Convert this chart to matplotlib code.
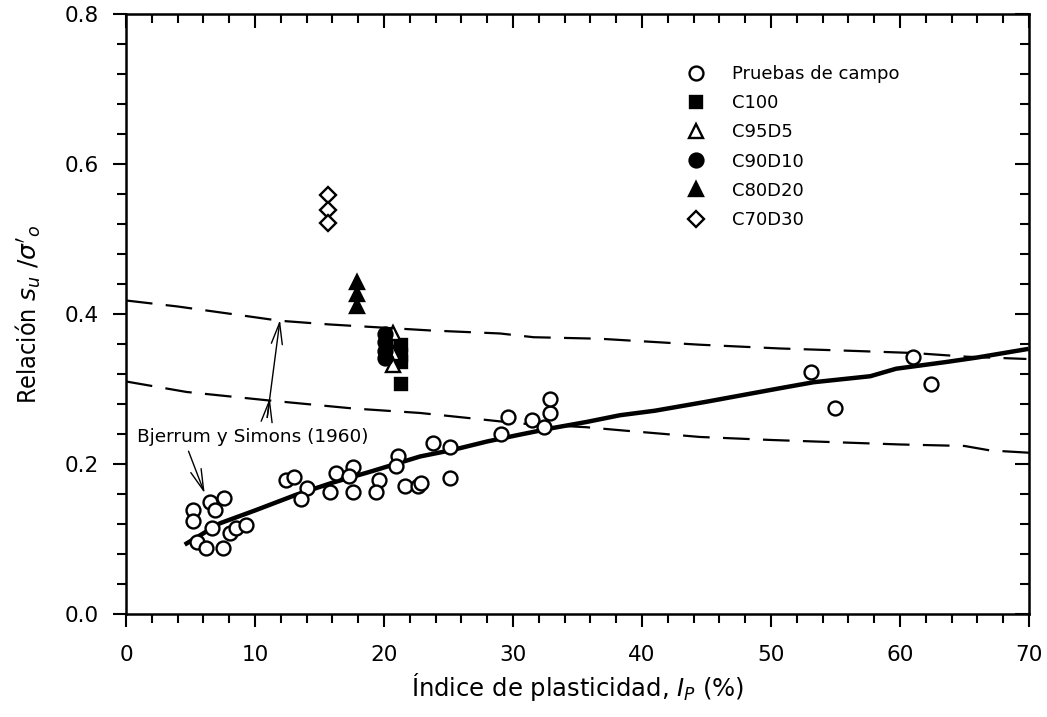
import matplotlib
matplotlib.use('Agg')
import matplotlib.pyplot as plt
from matplotlib import font_manager

plt.rcParams['font.family'] = ['DejaVu Sans']
plt.rcParams['mathtext.fontset'] = 'dejavusans'

# field data (open circles)
campo_x = [5.2, 5.2, 6.5, 6.9, 7.6, 6.7, 5.5, 6.2, 7.5, 8.1, 8.5, 9.3,
           12.4, 13.0, 14.0, 13.6, 15.8, 16.3, 17.6, 17.3, 17.6, 19.6, 19.4,
           21.1, 20.9, 21.6, 22.6, 22.9, 23.8, 25.1, 25.1, 29.1, 29.6,
           31.5, 32.4, 32.9, 32.9, 53.1, 55.0, 61.0, 62.4]
campo_y = [0.139, 0.124, 0.149, 0.138, 0.154, 0.114, 0.096, 0.088, 0.088, 0.108, 0.115, 0.118,
           0.178, 0.182, 0.168, 0.153, 0.162, 0.188, 0.196, 0.184, 0.162, 0.179, 0.162,
           0.211, 0.197, 0.171, 0.170, 0.174, 0.228, 0.223, 0.181, 0.240, 0.262,
           0.258, 0.249, 0.268, 0.286, 0.322, 0.275, 0.342, 0.307]

c100_x = [21.3, 21.3, 21.3, 21.3]
c100_y = [0.359, 0.345, 0.336, 0.307]
c95d5_x = [20.7, 20.7, 20.7]
c95d5_y = [0.374, 0.348, 0.332]
c90d10_x = [20.1, 20.1, 20.1, 20.1]
c90d10_y = [0.373, 0.362, 0.351, 0.341]
c80d20_x = [17.9, 17.9, 17.9]
c80d20_y = [0.443, 0.427, 0.410]
c70d30_x = [15.7, 15.7, 15.7]
c70d30_y = [0.559, 0.539, 0.521]

# trend line through field data
trend_x = [4.7, 7.3, 10, 13.2, 16, 19, 22.8, 25.4, 28, 30.5, 33.1, 35.7, 38.3,
           41, 45, 50.7, 53.3, 55.5, 57.7, 59.7, 63.6, 66, 69.8]
trend_y = [0.094, 0.121, 0.138, 0.159, 0.175, 0.19, 0.21, 0.219, 0.23, 0.239, 0.248, 0.256, 0.265,
           0.271, 0.283, 0.301, 0.309, 0.313, 0.317, 0.327, 0.336, 0.342, 0.353]

# Bjerrum y Simons (1960) bounds
sup_x = [0, 4, 8.6, 11.9, 15.8, 19.7, 23.6, 29, 31.6, 36.7, 44.5, 50.7, 56, 61, 65.2, 69.8]
sup_y = [0.418, 0.41, 0.399, 0.391, 0.386, 0.382, 0.378, 0.374, 0.369, 0.367, 0.359, 0.354,
         0.351, 0.348, 0.343, 0.34]
inf_x = [0, 4.7, 10.9, 17.6, 22.8, 26.7, 30.5, 35.7, 38.3, 44.5, 50, 55, 60, 65, 67, 70]
inf_y = [0.31, 0.296, 0.285, 0.274, 0.268, 0.261, 0.254, 0.249, 0.245, 0.236, 0.232, 0.229,
         0.226, 0.224, 0.218, 0.215]

fig = plt.figure(figsize=(10.47, 7.17), dpi=100)
ax = fig.add_axes([0.1203, 0.1437, 0.8625, 0.8368])

ax.plot(sup_x, sup_y, color='black', lw=1.6, dashes=(12, 6))
ax.plot(inf_x, inf_y, color='black', lw=1.6, dashes=(12, 6))
ax.plot(trend_x, trend_y, color='black', lw=3.2)

ms = 10
mew = 1.7
ax.plot(campo_x, campo_y, 'o', ms=ms, mfc='white', mec='black', mew=mew, label='Pruebas de campo')
ax.plot(c100_x, c100_y, 's', ms=9, mfc='black', mec='black', mew=mew, label='C100')
ax.plot(c95d5_x, c95d5_y, '^', ms=ms, mfc='white', mec='black', mew=mew, label='C95D5')
ax.plot(c90d10_x, c90d10_y, 'o', ms=ms, mfc='black', mec='black', mew=mew, label='C90D10')
ax.plot(c80d20_x, c80d20_y, '^', ms=ms, mfc='black', mec='black', mew=mew, label='C80D20')
ax.plot(c70d30_x, c70d30_y, 'D', ms=8, mfc='white', mec='black', mew=mew, label='C70D30')

ax.text(0.85, 0.236, 'Bjerrum y Simons (1960)', fontsize=13.3, va='center', ha='left')
arr = dict(arrowstyle='->, head_length=0.7, head_width=0.18', color='black', lw=1.0,
           mutation_scale=22, shrinkA=0, shrinkB=0)
ax.annotate('', xy=(11.94, 0.392), xytext=(10.95, 0.262), arrowprops=arr)
ax.annotate('', xy=(11.15, 0.288), xytext=(10.95, 0.262), arrowprops=arr)
ax.annotate('', xy=(6.1, 0.161), xytext=(4.85, 0.217), arrowprops=arr)

ax.set_xlim(0, 70)
ax.set_ylim(0, 0.8)
ax.set_xticks(range(0, 71, 10))
ax.set_xticks(range(0, 71, 2), minor=True)
ax.set_yticks([0.0, 0.2, 0.4, 0.6, 0.8])
ax.set_yticks([i * 0.04 for i in range(21)], minor=True)
ax.set_yticklabels(['0.0', '0.2', '0.4', '0.6', '0.8'])

for s in ax.spines.values():
    s.set_linewidth(1.8)
ax.tick_params(which='both', direction='out', width=1.5, labelsize=15.5, top=False, right=False)
ax.tick_params(which='major', length=9.5)
ax.tick_params(which='minor', length=6.5)
ax.tick_params(axis='x', which='major', pad=13)
ax.tick_params(axis='y', which='major', pad=10)

top = ax.secondary_xaxis('top')
top.set_xticks(range(0, 71, 10))
top.set_xticks(range(0, 71, 2), minor=True)
top.tick_params(which='both', direction='in', width=1.5, labeltop=False)
top.tick_params(which='major', length=10)
top.tick_params(which='minor', length=6.5)
right = ax.secondary_yaxis('right')
right.set_yticks([0.0, 0.2, 0.4, 0.6, 0.8])
right.set_yticks([i * 0.04 for i in range(21)], minor=True)
right.tick_params(which='both', direction='in', width=1.5, labelright=False)
right.tick_params(which='major', length=10)
right.tick_params(which='minor', length=6.5)

names = set(f.name for f in font_manager.fontManager.ttflist)
if 'Liberation Sans Narrow' in names:
    ax.set_ylabel(r"Relación $s_u\ /\sigma'_o$", fontsize=19, family='Liberation Sans Narrow')
else:
    ax.set_ylabel(r"Relación $s_u\ /\sigma'_o$", fontsize=18, family='DejaVu Sans', stretch='condensed')
ax.yaxis.set_label_coords(-0.092, 0.5)
ax.set_xlabel(r"Índice de plasticidad, $I_P$ (%)", fontsize=17.5)
ax.xaxis.set_label_coords(0.5, -0.095)

ax.legend(loc='upper left', bbox_to_anchor=(0.603, 0.942), frameon=False, fontsize=13,
          handlelength=1.0, handletextpad=1.5, labelspacing=0.62, numpoints=1)

fig.savefig('out.png', dpi=100)
